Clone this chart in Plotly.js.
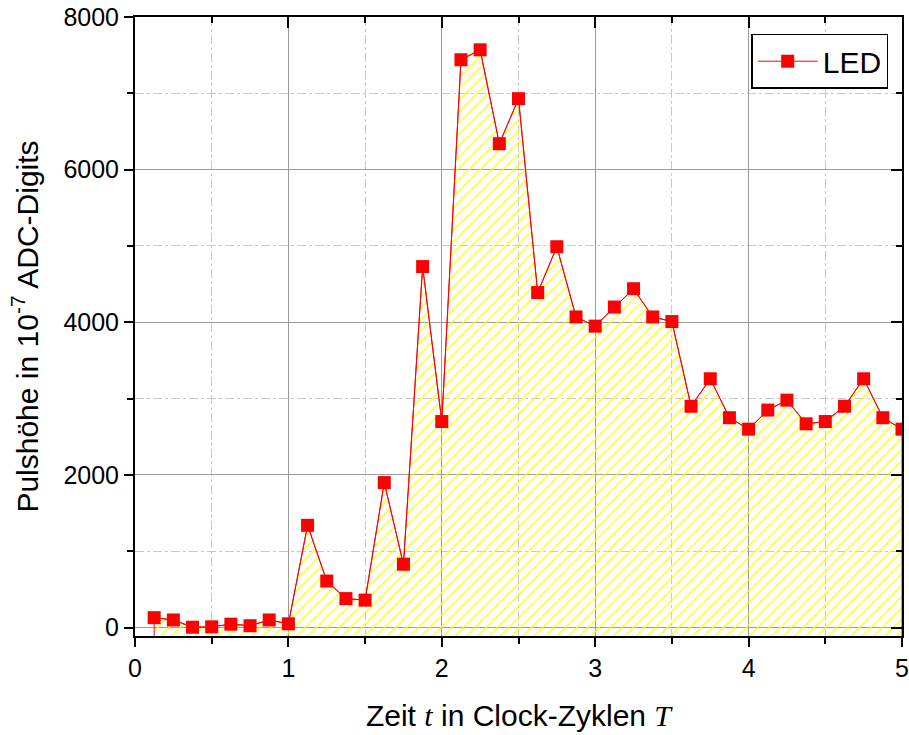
<!DOCTYPE html>
<html>
<head>
<meta charset="utf-8">
<script src="https://cdn.plot.ly/plotly-3.0.1.min.js"></script>
<style>
  html, body { margin: 0; padding: 0; background: #fff; }
  #chart { width: 909px; height: 735px; }
</style>
</head>
<body>
<div id="chart"></div>
<script>
// Sampling times in clock cycles T (step of T/8)
const zeit = [0.125, 0.25, 0.375, 0.5, 0.625, 0.75, 0.875, 1.0,
              1.125, 1.25, 1.375, 1.5, 1.625, 1.75, 1.875, 2.0,
              2.125, 2.25, 2.375, 2.5, 2.625, 2.75, 2.875, 3.0,
              3.125, 3.25, 3.375, 3.5, 3.625, 3.75, 3.875, 4.0,
              4.125, 4.25, 4.375, 4.5, 4.625, 4.75, 4.875, 5.0];

// Pulse height of the LED signal in 10^-7 ADC digits
const ledPuls = [130, 100, 5, 10, 45, 25, 100, 50,
                 1340, 610, 380, 360, 1900, 830, 4730, 2700,
                 7440, 7570, 6340, 6930, 4390, 4990, 4070, 3950,
                 4200, 4440, 4070, 4010, 2900, 3260, 2750, 2600,
                 2850, 2980, 2670, 2700, 2900, 3260, 2750, 2600];

const xTickVals = [0, 1, 2, 3, 4, 5];
const yTickVals = [0, 2000, 4000, 6000, 8000];

const X_RANGE = [0, 5];
const Y_RANGE = [-110, 8000];

// Closed outline: data curve dropped to the bottom edge of the frame
const fillX = [zeit[0]].concat(zeit, [zeit[zeit.length - 1]]);
const fillY = [Y_RANGE[0]].concat(ledPuls, [Y_RANGE[0]]);

const RED = '#ff0000';
const fontSans = 'Arial, "Liberation Sans", sans-serif';

const traces = [
  {
    x: fillX, y: fillY,
    type: 'scatter', mode: 'lines',
    fill: 'toself',
    fillcolor: 'rgba(0,0,0,0)',
    fillpattern: { shape: '/', fgcolor: '#ffff00', bgcolor: 'rgba(255,255,255,0)', size: 8, solidity: 0.16 },
    line: { color: RED, width: 1 },
    showlegend: false, hoverinfo: 'skip'
  },
  {
    x: zeit, y: ledPuls,
    type: 'scatter', mode: 'lines+markers',
    name: 'LED',
    line: { color: RED, width: 1 },
    marker: { symbol: 'square', size: 13, color: RED }
  },
  // carries the mirrored top/right frame axes
  {
    x: X_RANGE, y: Y_RANGE, xaxis: 'x2', yaxis: 'y2',
    type: 'scatter', mode: 'markers', marker: { opacity: 0 },
    showlegend: false, hoverinfo: 'skip'
  }
];

const gridMajor = '#9a9a9a';
const gridMinor = '#c8c8c8';

const layout = {
  width: 909, height: 735,
  margin: { l: 135, r: 7, t: 17, b: 99 },
  paper_bgcolor: '#ffffff', plot_bgcolor: '#ffffff',
  font: { family: fontSans, color: '#000' },
  showlegend: true,
  xaxis: {
    range: X_RANGE, tickvals: xTickVals, ticktext: xTickVals.map(String),
    showline: true, linecolor: '#000', linewidth: 2,
    ticks: 'outside', ticklen: 9, tickwidth: 2, tickcolor: '#000',
    showgrid: true, gridcolor: gridMajor, gridwidth: 1,
    zeroline: false,
    tickfont: { size: 25, family: fontSans },
    minor: { dtick: 0.5, ticks: 'outside', ticklen: 6, tickwidth: 2, tickcolor: '#000',
             showgrid: true, gridcolor: gridMinor, griddash: 'dashdot', gridwidth: 1 },
    title: {
      text: 'Zeit <i><span style="font-family:\'Liberation Serif\', serif">t</span></i> in Clock-Zyklen <i><span style="font-family:\'Liberation Serif\', serif">T</span></i>',
      font: { size: 30, family: fontSans }, standoff: 24
    }
  },
  yaxis: {
    range: Y_RANGE, tickvals: yTickVals, ticktext: yTickVals.map(String),
    showline: true, linecolor: '#000', linewidth: 2,
    ticks: 'outside', ticklen: 9, tickwidth: 2, tickcolor: '#000',
    showgrid: true, gridcolor: gridMajor, gridwidth: 1,
    zeroline: false,
    tickfont: { size: 25, family: fontSans },
    minor: { dtick: 1000, ticks: 'outside', ticklen: 6, tickwidth: 2, tickcolor: '#000',
             showgrid: true, gridcolor: gridMinor, griddash: 'dashdot', gridwidth: 1 },
    title: {
      text: 'Pulshöhe in 10<sup>-7</sup> ADC-Digits',
      font: { size: 30, family: fontSans }, standoff: 16
    }
  },
  xaxis2: {
    overlaying: 'x', side: 'top', range: X_RANGE, tickvals: xTickVals,
    showticklabels: false, showgrid: false, zeroline: false,
    showline: true, linecolor: '#000', linewidth: 2,
    ticks: 'inside', ticklen: 11, tickwidth: 2, tickcolor: '#000',
    minor: { dtick: 0.5, ticks: 'inside', ticklen: 6, tickwidth: 2, tickcolor: '#000', showgrid: false }
  },
  yaxis2: {
    overlaying: 'y', side: 'right', range: Y_RANGE, tickvals: yTickVals,
    showticklabels: false, showgrid: false, zeroline: false,
    showline: true, linecolor: '#000', linewidth: 2,
    ticks: 'inside', ticklen: 11, tickwidth: 2, tickcolor: '#000',
    minor: { dtick: 1000, ticks: 'inside', ticklen: 6, tickwidth: 2, tickcolor: '#000', showgrid: false }
  },
  legend: {
    x: 0.982, xanchor: 'right', y: 0.973, yanchor: 'top',
    bgcolor: '#ffffff', bordercolor: '#000', borderwidth: 1.5,
    font: { size: 30, family: fontSans, color: '#000' },
    itemwidth: 60
  }
};

Plotly.newPlot('chart', traces, layout, { staticPlot: true, displayModeBar: false });
</script>
</body>
</html>
